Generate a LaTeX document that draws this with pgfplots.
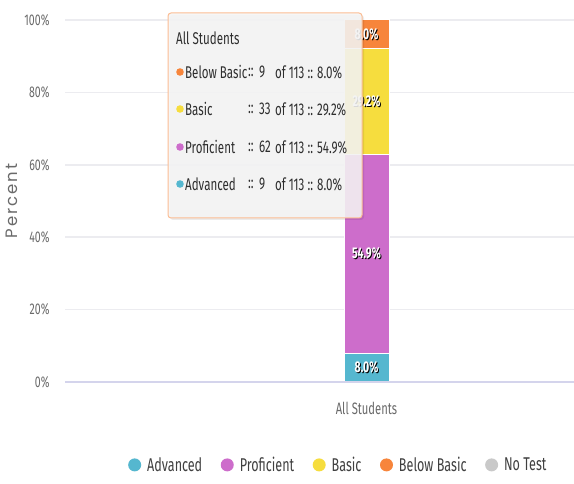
\documentclass[border=0pt]{standalone}
\usepackage{fontspec}
\setmainfont{Fira Sans}[FakeStretch=0.68]
\newfontfamily\pop{Poppins}[LetterSpace=12]
\usepackage{pgfplots}
\pgfplotsset{compat=1.18}
\definecolor{adv}{HTML}{55B7CF}
\definecolor{prof}{HTML}{CD6DCB}
\definecolor{bas}{HTML}{F6DD3E}
\definecolor{bbas}{HTML}{F7853B}
\definecolor{notest}{HTML}{C9C9C9}
\definecolor{gridc}{HTML}{ECECF0}
\definecolor{basec}{HTML}{D4D4EC}
\definecolor{tickc}{HTML}{6A6A6A}
\newcommand\stxt[1]{\leavevmode\rlap{\kern1pt\raisebox{-1pt}{\textcolor{black}{#1}}}\textcolor{white}{#1}}
\begin{document}
\begin{tikzpicture}[x=1pt,y=1pt]
\useasboundingbox (0,0) rectangle (574,483);
\begin{axis}[at={(65pt,101pt)}, anchor=south west, scale only axis,
  width=509pt, height=362pt,
  xmin=-301.5, xmax=207.5, ymin=0, ymax=100,
  ybar stacked, bar width=45,
  axis line style={draw=none}, major tick length=0pt,
  ytick={0,20,...,100}, yticklabel={\pgfmathprintnumber{\tick}\%},
  /pgf/number format/assume math mode=true,
  ymajorgrids, grid style={gridc, line width=1.6pt},
  xtick={0}, xticklabels={All Students},
  tick label style={font=\fontsize{15.5}{17}\selectfont, text=tickc},
  yticklabel style={xshift=-12pt},
  xticklabel style={yshift=-17pt, font=\fontsize{16.5}{18}\selectfont},
  ylabel={\pop Percent}, ylabel style={font=\fontsize{16.5}{18}\selectfont, text=tickc, yshift=-0.5pt},
  legend columns=5,
  legend style={draw=none, at={(rel axis cs:0.537,-0.229)}, anchor=center,
    font=\fontsize{18.5}{20}\selectfont, text=black!75,
    /tikz/every odd column/.style={column sep=4pt},
    /tikz/every even column/.style={column sep=16.5pt}},
  legend image code/.code={\fill[#1, draw=none] (3pt,0pt) circle (6.5pt);},
  every axis plot/.append style={draw=white, line width=0.8pt},
]
\addplot[fill=adv] coordinates {(0,8.0)};
\addplot[fill=prof] coordinates {(0,54.9)};
\addplot[fill=bas] coordinates {(0,29.2)};
\addplot[fill=bbas] coordinates {(0,8.0)};
\addlegendimage{fill=notest}
\legend{Advanced, Proficient, Basic, Below Basic, No Test}
\end{axis}
\draw[basec, line width=2pt] (65,101) -- (574,101);
\begin{axis}[at={(65pt,101pt)}, anchor=south west, scale only axis,
  width=509pt, height=362pt,
  xmin=-301.5, xmax=207.5, ymin=0, ymax=100, axis lines=none]
\addplot[only marks, mark=none, nodes near coords, point meta=explicit symbolic,
  nodes near coords align=center,
  every node near coord/.append style={font=\fontsize{15.5}{17}\selectfont\bfseries, inner sep=0pt}]
  coordinates {(0,4.0)[\stxt{8.0\%}] (0,35.45)[\stxt{54.9\%}] (0,77.5)[\stxt{29.2\%}] (0,96.0)[\stxt{8.0\%}]};
\end{axis}
% tooltip
\fill[black, opacity=0.08, rounded corners=3pt] (170,263) rectangle (364,468);
\filldraw[draw=bbas!55, fill=white!96!black, fill opacity=0.88, line width=1pt, rounded corners=3pt] (168,265) rectangle (362,470);
\begin{scope}[every node/.style={anchor=west, inner sep=0pt, font=\fontsize{17}{19}\selectfont, text=black!82}]
\node at (176,445) {All Students};
\foreach \y/\c/\n/\k/\p in {411/bbas/Below Basic/9/8.0, 374/bas/Basic/33/29.2, 336/prof/Proficient/62/54.9, 299/adv/Advanced/9/8.0}{
  \fill[\c] (180,\y) circle (3.8pt);
  \node at (185,\y) {\n};
  \node at (248,\y) {::};
  \node at (259,\y) {\k};
  \node at (275,\y) {of 113 :: \p\%};
}
\end{scope}
\end{tikzpicture}
\end{document}
